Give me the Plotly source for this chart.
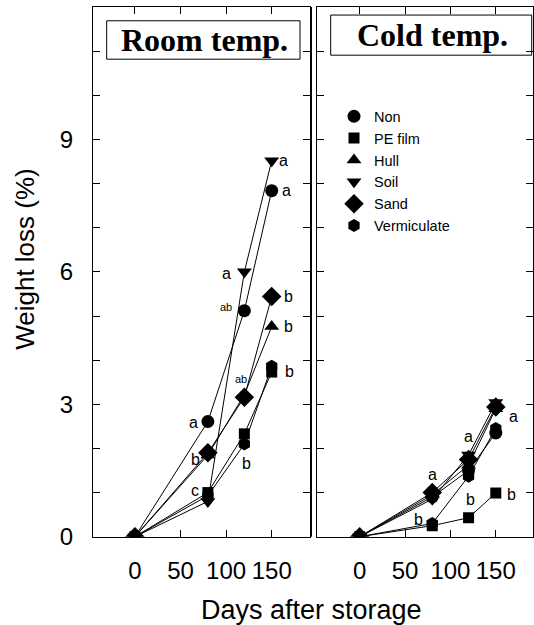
import plotly.graph_objects as go

W, H = 534, 625          # reference geometry used for all paper fractions
FIG_H = 640              # rendered page height (captured page is rescaled to 625)

days = [0, 80, 120, 150]
series = ["Non", "PE film", "Hull", "Soil", "Sand", "Vermiculate"]
symbols = ["circle", "square", "triangle-up", "triangle-down", "diamond", "hexagon"]
sizes = [13, 11, 13, 13, 15, 13]

room = {
    "Non":         [0, 2.61, 5.12, 7.84],
    "PE film":     [0, 1.00, 2.33, 3.73],
    "Hull":        [0, 1.85, 3.22, 4.76],
    "Soil":        [0, 0.80, 6.00, 8.52],
    "Sand":        [0, 1.90, 3.16, 5.44],
    "Vermiculate": [0, 0.93, 2.10, 3.86],
}
cold = {
    "Non":         [0, 0.90, 1.50, 2.35],
    "PE film":     [0, 0.25, 0.43, 0.99],
    "Hull":        [0, 0.95, 1.62, 2.90],
    "Soil":        [0, 0.85, 1.85, 3.04],
    "Sand":        [0, 1.00, 1.75, 2.94],
    "Vermiculate": [0, 0.30, 1.37, 2.45],
}

# significance letters: (day, value, text, small)
room_letters = [
    (163, 8.52, "a", False), (166, 7.84, "a", False), (100, 5.97, "a", False),
    (100, 5.21, "ab", True), (168, 5.44, "b", False), (168, 4.76, "b", False),
    (169, 3.75, "b", False), (116, 3.58, "ab", True), (64, 2.59, "a", False),
    (66, 1.75, "b", False), (122, 1.65, "b", False), (66, 1.04, "c", False),
]
cold_letters = [
    (170, 2.72, "a", False), (120, 2.28, "a", False), (80, 1.41, "a", False),
    (65, 0.38, "b", False), (121.6, 0.84, "b", False), (167, 0.95, "b", False),
]

xticks = [0, 50, 100, 150]
yticks = [0, 3, 6, 9]

fig = go.Figure()
for i, s in enumerate(series):
    for data, xa, ya in [(room, "x", "y"), (cold, "x2", "y2")]:
        fig.add_trace(go.Scatter(
            x=days, y=data[s], xaxis=xa, yaxis=ya, mode="lines+markers",
            line=dict(color="black", width=1),
            marker=dict(symbol=symbols[i], size=sizes[i], color="black"),
            showlegend=False, name=s))
for i, s in enumerate(series):
    fig.add_trace(go.Scatter(
        x=[None], y=[None], xaxis="x2", yaxis="y2", mode="markers",
        marker=dict(symbol=symbols[i], size=sizes[i], color="black"),
        name=s, showlegend=True))

ann = []
for d, v, t, small in room_letters:
    ann.append(dict(x=d, y=v, xref="x", yref="y", text=t, showarrow=False,
                    xanchor="center", yanchor="middle",
                    font=dict(family="Liberation Sans", size=11 if small else 16, color="black")))
for d, v, t, small in cold_letters:
    ann.append(dict(x=d, y=v, xref="x2", yref="y2", text=t, showarrow=False,
                    xanchor="center", yanchor="middle",
                    font=dict(family="Liberation Sans", size=11 if small else 16, color="black")))

def pann(px, py, text, size, family="Liberation Sans", angle=0):
    return dict(x=px / W, y=1 - py / H, xref="paper", yref="paper", text=text,
                xanchor="center", yanchor="middle", textangle=angle, showarrow=False,
                font=dict(family=family, size=size, color="black"))

ann.append(pann(204, 40, "<b>Room temp.</b>", 32, "Liberation Serif"))
ann.append(pann(432, 35, "<b>Cold temp.</b>", 32, "Liberation Serif"))
ann.append(pann(311, 608, "Days after storage", 27))
ann.append(pann(25, 258, "Weight loss (%)", 26, angle=-90))

shapes = [
    dict(type="rect", xref="paper", yref="paper", x0=106.7 / W, x1=300 / W,
         y0=1 - 59 / H, y1=1 - 20.7 / H, line=dict(color="black", width=1)),
    dict(type="rect", xref="paper", yref="paper", x0=330.7 / W, x1=531.7 / W,
         y0=1 - 55 / H, y1=1 - 15 / H, line=dict(color="black", width=1)),
    dict(type="line", xref="paper", yref="paper", x0=311.5 / W, x1=311.5 / W,
         y0=1 - 535 / H, y1=1 - 7 / H, line=dict(color="black", width=1)),
]

axis_common = dict(showline=True, linecolor="black", linewidth=1, mirror="ticks",
                   ticks="inside", ticklen=7, tickcolor="black", showgrid=False,
                   zeroline=False, tickfont=dict(family="Liberation Sans", size=24, color="black"))

fig.update_layout(
    width=W, height=FIG_H, autosize=False, margin=dict(l=0, r=0, t=0, b=0),
    paper_bgcolor="white", plot_bgcolor="white",
    xaxis=dict(domain=[93 / W, 310 / W], range=[-46, 192], tickvals=xticks,
               ticklabelstandoff=12, anchor="y", **axis_common),
    yaxis=dict(domain=[90 / H, 618 / H], range=[0, 12], tickvals=list(range(0, 13)),
               ticktext=[str(v) if v in yticks else "" for v in range(0, 13)],
               ticklabelstandoff=14, anchor="x", **axis_common),
    xaxis2=dict(domain=[317 / W, 533 / W], range=[-47, 191], tickvals=xticks,
                ticklabelstandoff=12, anchor="y2", **axis_common),
    yaxis2=dict(domain=[90 / H, 618 / H], range=[0, 12], tickvals=list(range(0, 13)),
                showticklabels=False, anchor="x2", **axis_common),
    legend=dict(x=334 / W, y=1 - 100 / H, xanchor="left", yanchor="top",
                bgcolor="rgba(0,0,0,0)", tracegroupgap=0,
                font=dict(family="Liberation Sans", size=14.5, color="black")),
    annotations=ann, shapes=shapes,
)

fig.write_html("out.html",
               config={"responsive": False, "displayModeBar": False},
               post_script="document.body.style.margin='0';document.body.style.overflow='hidden';")
